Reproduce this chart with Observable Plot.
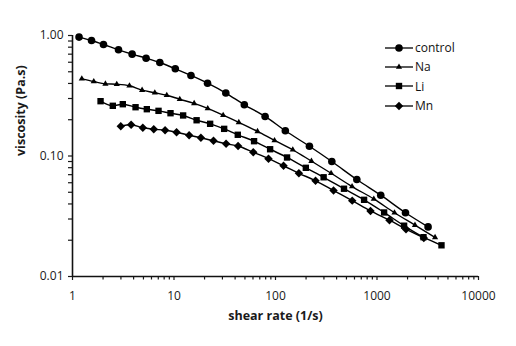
<!DOCTYPE html>
<html><head><meta charset="utf-8">
<script src="https://cdn.jsdelivr.net/npm/d3@7"></script>
<script src="https://cdn.jsdelivr.net/npm/@observablehq/plot@0.6"></script>
<style>
body{margin:0;background:#fff;}
#wrap{position:relative;width:516px;height:346px;font-family:"Open Sans",sans-serif;}
#legend{position:absolute;left:385px;top:38px;font-size:12px;color:#111;}
.row{display:flex;align-items:center;height:19.3px;}
.row svg{display:block;}
</style></head><body><div id="wrap"><div id="legend"></div></div>
<script>
const seriesNames = ["control", "Na", "Li", "Mn"];
const controlX = [1.16, 1.54, 2.02, 2.84, 3.87, 5.31, 7.25, 10.3, 14.7, 21.4, 32.4, 49.3, 79, 125, 216, 359, 633, 1089, 1908, 3186];
const controlY = [0.97, 0.909, 0.842, 0.761, 0.70, 0.648, 0.597, 0.529, 0.466, 0.402, 0.333, 0.266, 0.213, 0.162, 0.1205, 0.090, 0.0638, 0.0473, 0.0338, 0.0258];
const naX = [1.235, 1.62, 2.11, 2.73, 3.64, 4.85, 6.47, 8.49, 11.4, 15.8, 21.5, 30.5, 43.5, 66.5, 97.8, 148, 226, 353, 568, 930, 1487, 2367, 3734];
const naY = [0.437, 0.415, 0.397, 0.394, 0.383, 0.352, 0.3345, 0.319, 0.296, 0.273, 0.248, 0.218, 0.190, 0.160, 0.1345, 0.1126, 0.0906, 0.0719, 0.0558, 0.044, 0.0338, 0.0267, 0.0211];
const liX = [1.89, 2.495, 3.13, 4.18, 5.40, 7.04, 9.24, 12.3, 16.7, 22.7, 31.2, 42.5, 61.5, 88.5, 130, 199, 298, 473, 746, 1175, 1849, 2871, 4318];
const liY = [0.285, 0.261, 0.269, 0.254, 0.2445, 0.237, 0.2265, 0.217, 0.198, 0.185, 0.168, 0.150, 0.1327, 0.1138, 0.0972, 0.0798, 0.0666, 0.0535, 0.0433, 0.034, 0.0264, 0.0212, 0.01815];
const mnX = [2.99, 3.78, 4.93, 6.32, 8.17, 10.6, 14.1, 18.4, 24.5, 32.6, 42.8, 60.4, 85.3, 120, 170, 248, 373, 570, 863, 1327, 1931, 2891];
const mnY = [0.1768, 0.1815, 0.1714, 0.1669, 0.1637, 0.1575, 0.1488, 0.1416, 0.1337, 0.1263, 0.121, 0.1073, 0.0950, 0.083, 0.0719, 0.0623, 0.0517, 0.0426, 0.035, 0.0293, 0.0247, 0.0209];

const xDomain = [1, 10000];
const yDomain = [0.01, 1];
const xMajor = [1, 10, 100, 1000, 10000];
const xMajorLabels = ["1", "10", "100", "1000", "10000"];
const yMajor = [0.01, 0.1, 1];
const yMajorLabels = ["0.01", "0.10", "1.00"];
const minorMult = [2, 3, 4, 5, 6, 7, 8, 9];
const xTitle = "shear rate (1/s)";
const yTitle = "viscosity (Pa.s)";

const series = [
  {name: seriesNames[0], xs: controlX, ys: controlY, symbol: "circle", r: 3.8},
  {name: seriesNames[1], xs: naX, ys: naY, symbol: "triangle", r: 2.3},
  {name: seriesNames[2], xs: liX, ys: liY, symbol: "square", r: 3.6},
  {name: seriesNames[3], xs: mnX, ys: mnY, symbol: "diamond2", r: 3.8}
];
const data = series.flatMap(s => s.xs.map((x, i) => ({series: s.name, x, y: s.ys[i]})));
const minor = majors => majors.slice(0, -1).flatMap(m => minorMult.map(k => m * k));

const plot = Plot.plot({
  width: 516, height: 346,
  marginLeft: 72, marginRight: 38, marginTop: 35, marginBottom: 70,
  style: {fontFamily: '"Open Sans", sans-serif', fontSize: "12px", color: "#1a1a1a", background: "white"},
  x: {type: "log", domain: xDomain},
  y: {type: "log", domain: yDomain},
  marks: [
    Plot.axisX(xMajor, {tickSize: 4, tickPadding: 11, tickFormat: d => xMajorLabels[xMajor.indexOf(d)], label: null, strokeWidth: 1.2}),
    Plot.axisX(minor(xMajor), {tickSize: 3.5, tickFormat: () => "", label: null, strokeWidth: 1.2}),
    Plot.axisY(yMajor, {tickSize: 4, tickPadding: 5, tickFormat: d => yMajorLabels[yMajor.indexOf(d)], label: null, strokeWidth: 1.2}),
    Plot.axisY(minor(yMajor), {tickSize: 4, tickFormat: () => "", label: null, strokeWidth: 1.2}),
    Plot.ruleY([yDomain[0]], {stroke: "#111", strokeWidth: 1.6}),
    Plot.ruleX([xDomain[0]], {stroke: "#111", strokeWidth: 1.6}),
    Plot.line(data, {x: "x", y: "y", z: "series", stroke: "#000", strokeWidth: 1.4, curve: "monotone-x"}),
    ...series.map(s => Plot.dot(data.filter(d => d.series === s.name), {x: "x", y: "y", symbol: s.symbol, r: s.r, fill: "#000", stroke: "none"})),
    Plot.text([xTitle], {text: d => d, frameAnchor: "bottom", dy: 43, fontWeight: "bold", fontSize: 12.5}),
    Plot.text([yTitle], {text: d => d, frameAnchor: "left", dx: -52, rotate: -90, fontWeight: "bold", fontSize: 12.5})
  ]
});
document.getElementById("wrap").prepend(plot);

const legend = d3.select("#legend");
series.forEach(s => {
  const row = legend.append("div").attr("class", "row");
  const svg = row.append("svg").attr("width", 29).attr("height", 12);
  svg.append("line").attr("x1", 0).attr("x2", 28).attr("y1", 6).attr("y2", 6).attr("stroke", "#000").attr("stroke-width", 1.3);
  const symMap = {circle: d3.symbolCircle, triangle: d3.symbolTriangle, square: d3.symbolSquare, diamond2: d3.symbolDiamond2};
  svg.append("path").attr("transform", "translate(14,6)").attr("d", d3.symbol(symMap[s.symbol], Math.PI * s.r * s.r)()).attr("fill", "#000");
  row.append("span").text(s.name).style("margin-left", "1px");
});
</script>
</body></html>
